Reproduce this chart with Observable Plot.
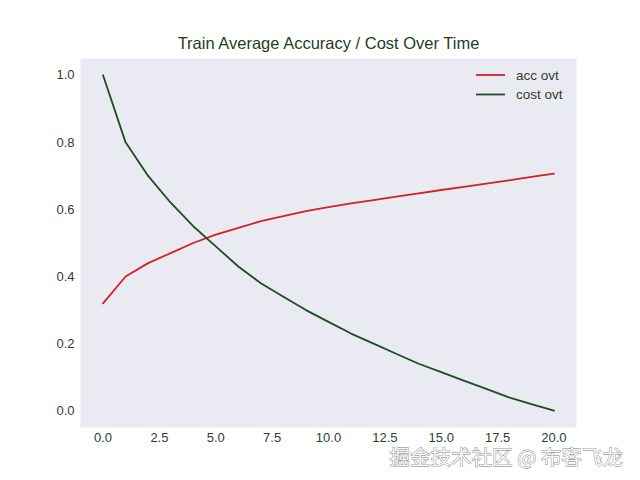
<!DOCTYPE html>
<html>
<head>
<meta charset="utf-8">
<script src="https://cdn.jsdelivr.net/npm/d3@7"></script>
<script src="https://cdn.jsdelivr.net/npm/@observablehq/plot@0.6"></script>
<style>
  html, body { margin: 0; padding: 0; background: #ffffff; }
  #chart svg { display: block; }
</style>
</head>
<body>
<div id="chart"></div>
<script>
const titleText = "Train Average Accuracy / Cost Over Time";
const epochs = [0,1,2,3,4,5,6,7,8,9,10,11,12,13,14,15,16,17,18,19,20];
const accOvt = [0.32,0.40,0.44,0.47,0.50,0.525,0.545,0.565,0.58,0.595,0.607,0.618,0.628,0.638,0.648,0.658,0.667,0.677,0.687,0.697,0.707];
const costOvt = [1.0,0.80,0.70,0.62,0.55,0.49,0.43,0.38,0.34,0.30,0.265,0.23,0.20,0.17,0.14,0.115,0.09,0.065,0.04,0.02,0.0];
const seriesNames = ["acc ovt", "cost ovt"];
const seriesColors = ["#d62027", "#1e4d1e"];
const xTicks = [0,2.5,5,7.5,10,12.5,15,17.5,20];
const yTicks = [0,0.2,0.4,0.6,0.8,1.0];
const watermark = "掘金技术社区 @ 布客飞龙";

const rows = [];
epochs.forEach((e, i) => {
  rows.push({epoch: e, value: accOvt[i], series: seriesNames[0]});
  rows.push({epoch: e, value: costOvt[i], series: seriesNames[1]});
});

const textColor = "#2c3f2c";

const plot = Plot.plot({
  width: 640,
  height: 480,
  marginLeft: 80,
  marginRight: 64,
  marginTop: 58,
  marginBottom: 53,
  style: {fontFamily: "'Liberation Sans', Arial, sans-serif", fontSize: "13px", color: textColor, background: "#ffffff"},
  x: {domain: [-1, 21], ticks: xTicks, tickFormat: d3.format(".1f"), tickSize: 0, tickPadding: 5, label: null},
  y: {domain: [-0.05, 1.05], ticks: yTicks, tickFormat: d3.format(".1f"), tickSize: 0, tickPadding: 6, label: null},
  color: {domain: seriesNames, range: seriesColors},
  marks: [
    Plot.frame({fill: "#eaeaf2", stroke: null}),
    Plot.line(rows, {x: "epoch", y: "value", stroke: "series", strokeWidth: 1.8, curve: "linear"}),
    Plot.text([titleText], {frameAnchor: "top", lineAnchor: "middle", dy: -15, fontSize: 16.5, fill: "#1f3d1f", text: d => d})
  ]
});

const svg = d3.select(plot);
// legend
const lg = svg.append("g").attr("text-anchor", "start");
seriesNames.forEach((name, i) => {
  const y = 75 + i * 19.5;
  lg.append("line").attr("x1", 476).attr("x2", 505).attr("y1", y).attr("y2", y)
    .attr("stroke", seriesColors[i]).attr("stroke-width", 1.8);
  lg.append("text").attr("x", 516).attr("y", y).attr("dy", "0.35em")
    .attr("text-anchor", "start")
    .attr("font-size", 13.5).attr("fill", textColor).text(name);
});
// watermark
svg.append("text").attr("x", 623).attr("y", 458).attr("dy", "0.35em")
  .attr("text-anchor", "end")
  .attr("font-family", "'Noto Sans CJK SC', sans-serif")
  .attr("font-size", 20.5)
  .attr("fill", "#f7f7f7").attr("stroke", "#7a7a7a").attr("stroke-width", 0.8)
  .attr("paint-order", "stroke")
  .text(watermark);

document.getElementById("chart").appendChild(plot);
</script>
</body>
</html>
